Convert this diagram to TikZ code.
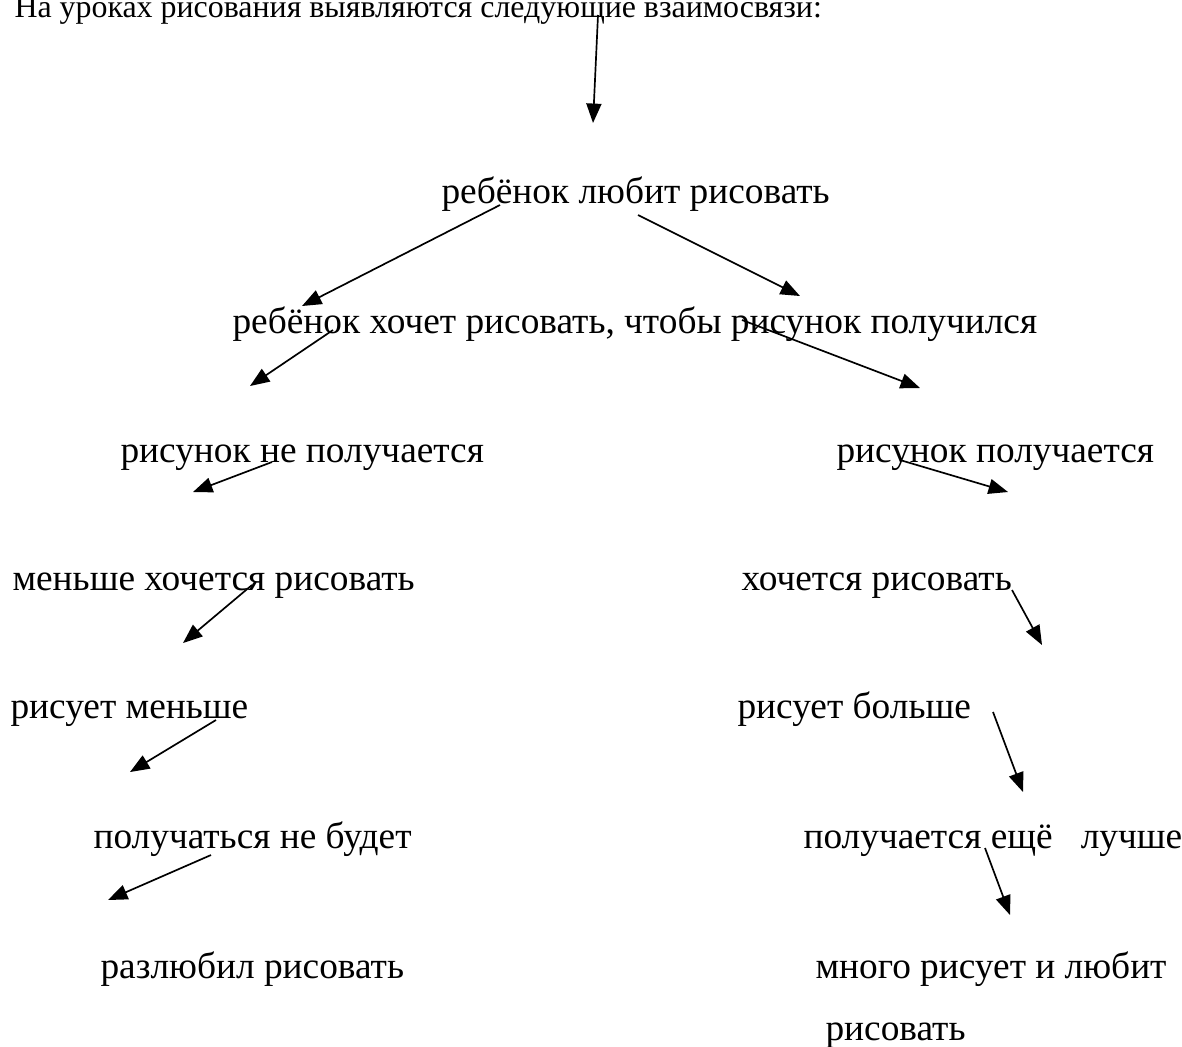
\documentclass[tikz,border=0pt]{standalone}
\usepackage{fontspec}
\setmainfont{Liberation Serif}
\usetikzlibrary{arrows.meta}
\tikzset{
  txt/.style={anchor=base west, inner sep=0pt, font=\fontsize{14.4}{17}\selectfont},
  arr/.style={-{Triangle[length=7.5pt,width=5.8pt]}, line width=0.65pt}
}
\begin{document}
\begin{tikzpicture}[x=0.01355cm,y=-0.01355cm]
  \useasboundingbox (0,0) rectangle (1182,1046);
  % texts
  \node[txt, font=\fontsize{12.3}{15}\selectfont] (title) at (14,17) {На уроках рисования выявляются следующие взаимосвязи:};
  \node[txt] (loves) at (441,203) {ребёнок любит рисовать};
  \node[txt] (wants) at (232,333) {ребёнок хочет рисовать, чтобы рисунок получился};
  \node[txt] (failL) at (120,462) {рисунок не получается};
  \node[txt] (okR) at (836,462) {рисунок получается};
  \node[txt] (lessL) at (12,590) {меньше хочется рисовать};
  \node[txt] (wantR) at (741,590) {хочется рисовать};
  \node[txt] (drawL) at (10,718) {рисует меньше};
  \node[txt] (drawR) at (737,718) {рисует больше};
  \node[txt] (notL) at (93,848) {получаться не будет};
  \node[txt] (betterR) at (803,848) {получается ещё \ \ лучше};
  \node[txt] (stopL) at (100,978) {разлюбил рисовать};
  \node[txt] (muchR) at (815,978) {много рисует и любит};
  \node[txt] (muchR2) at (825,1040) {рисовать};
  % arrow ends
  \coordinate (s0) at (598,15);   \coordinate (t0) at (593,123);
  \coordinate (s1) at (500,205);  \coordinate (t1) at (302,306);
  \coordinate (s2) at (638,215);  \coordinate (t2) at (800,296);
  \coordinate (s3) at (333,330);  \coordinate (t3) at (250,386);
  \coordinate (s4) at (742,320);  \coordinate (t4) at (920,388);
  \coordinate (s5) at (272,462);  \coordinate (t5) at (193,492);
  \coordinate (s6) at (900,460);  \coordinate (t6) at (1008,492);
  \coordinate (s7) at (252,585);  \coordinate (t7) at (183,643);
  \coordinate (s8) at (1012,590); \coordinate (t8) at (1042,645);
  \coordinate (s9) at (216,720);  \coordinate (t9) at (130,772);
  \coordinate (s10) at (993,712); \coordinate (t10) at (1023,792);
  \coordinate (s11) at (211,855); \coordinate (t11) at (108,900);
  \coordinate (s12) at (985,848); \coordinate (t12) at (1010,915);
  \foreach \i in {0,...,12}
    \draw[arr] (s\i) -- (t\i);
\end{tikzpicture}
\end{document}
